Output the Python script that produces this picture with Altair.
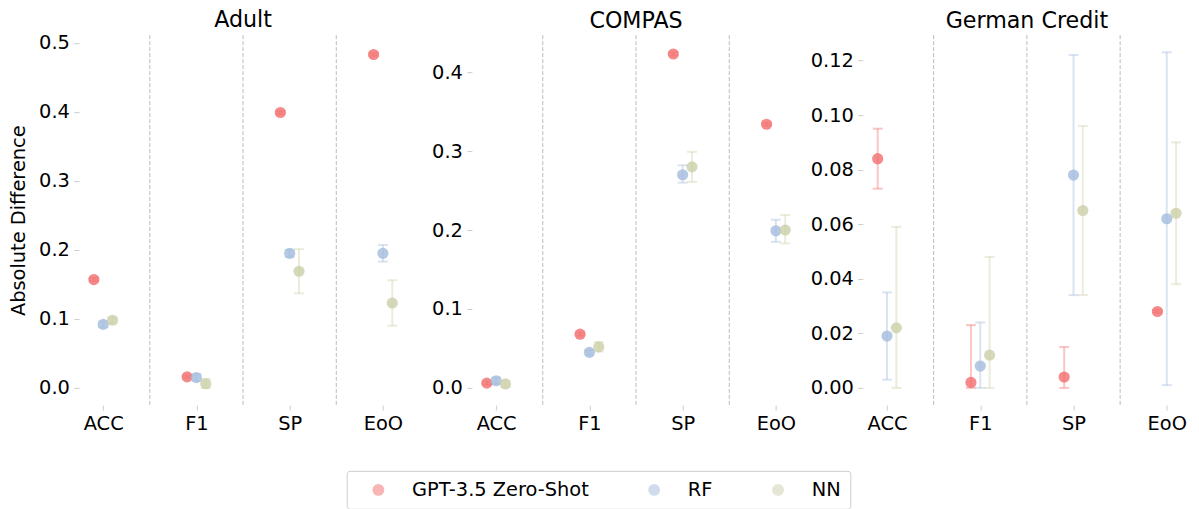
import altair as alt
import pandas as pd

metrics = ["ACC", "F1", "SP", "EoO"]
models = ["GPT-3.5 Zero-Shot", "RF", "NN"]
datasets = ["Adult", "COMPAS", "German Credit"]

# values per dataset -> model -> metric order (ACC, F1, SP, EoO)
adult_val = {
    "GPT-3.5 Zero-Shot": [0.157, 0.016, 0.399, 0.483],
    "RF": [0.092, 0.015, 0.195, 0.195],
    "NN": [0.098, 0.006, 0.169, 0.123],
}
adult_lo = {
    "GPT-3.5 Zero-Shot": [0.155, 0.014, 0.397, 0.481],
    "RF": [0.088, 0.010, 0.190, 0.183],
    "NN": [0.094, 0.000, 0.137, 0.090],
}
adult_hi = {
    "GPT-3.5 Zero-Shot": [0.159, 0.018, 0.401, 0.485],
    "RF": [0.096, 0.020, 0.200, 0.207],
    "NN": [0.102, 0.013, 0.201, 0.156],
}
compas_val = {
    "GPT-3.5 Zero-Shot": [0.006, 0.068, 0.423, 0.334],
    "RF": [0.009, 0.045, 0.270, 0.199],
    "NN": [0.005, 0.052, 0.280, 0.200],
}
compas_lo = {
    "GPT-3.5 Zero-Shot": [0.004, 0.066, 0.421, 0.332],
    "RF": [0.005, 0.042, 0.260, 0.185],
    "NN": [0.001, 0.046, 0.261, 0.183],
}
compas_hi = {
    "GPT-3.5 Zero-Shot": [0.008, 0.070, 0.425, 0.336],
    "RF": [0.013, 0.048, 0.282, 0.213],
    "NN": [0.009, 0.058, 0.299, 0.219],
}
german_val = {
    "GPT-3.5 Zero-Shot": [0.084, 0.002, 0.004, 0.028],
    "RF": [0.019, 0.008, 0.078, 0.062],
    "NN": [0.022, 0.012, 0.065, 0.064],
}
german_lo = {
    "GPT-3.5 Zero-Shot": [0.073, 0.000, 0.000, 0.0275],
    "RF": [0.003, 0.000, 0.034, 0.001],
    "NN": [0.000, 0.000, 0.034, 0.038],
}
german_hi = {
    "GPT-3.5 Zero-Shot": [0.095, 0.023, 0.015, 0.0285],
    "RF": [0.035, 0.024, 0.122, 0.123],
    "NN": [0.059, 0.048, 0.096, 0.090],
}

dodge = {"GPT-3.5 Zero-Shot": -0.1, "RF": 0.0, "NN": 0.1}
colors = ["#f26d6d", "#a3bbdd", "#cccfa8"]

tables = {
    "Adult": (adult_val, adult_lo, adult_hi),
    "COMPAS": (compas_val, compas_lo, compas_hi),
    "German Credit": (german_val, german_lo, german_hi),
}

rows = []
for ds in datasets:
    v, lo, hi = tables[ds]
    for m in models:
        for i, met in enumerate(metrics):
            rows.append({"dataset": ds, "model": m, "metric": met,
                         "value": v[m][i], "lo": lo[m][i], "hi": hi[m][i]})
df = pd.DataFrame(rows)
sep_df = pd.DataFrame({"sep": [0.5, 1.5, 2.5]})

metrics_js = "[" + ",".join(f"'{m}'" for m in metrics) + "]"
dodge_js = "{" + ",".join(f"'{k}': {v}" for k, v in dodge.items()) + "}"

panel_cfg = {
    "Adult": ([-0.025, 0.511], [0.0, 0.1, 0.2, 0.3, 0.4, 0.5], ".1f"),
    "COMPAS": ([-0.0219, 0.4468], [0.0, 0.1, 0.2, 0.3, 0.4], ".1f"),
    "German Credit": ([-0.00633, 0.12926], [0.0, 0.02, 0.04, 0.06, 0.08, 0.10, 0.12], ".2f"),
}

W, H = 328.5, 370.3


def panel(ds, first):
    domain, ticks, fmt = panel_cfg[ds]
    xscale = alt.Scale(domain=[-0.26, 3.26], nice=False, zero=False)
    xaxis = alt.Axis(values=[0, 1, 2, 3], labelExpr=f"{metrics_js}[datum.value]",
                     title=None, grid=False)
    yscale = alt.Scale(domain=domain, nice=False, zero=False)
    ytitle = "Absolute Difference" if first else None
    yaxis = alt.Axis(values=ticks, format=fmt, title=ytitle, grid=False, titlePadding=10)
    if first:
        legend = alt.Legend(orient="none", legendX=268, legendY=436, direction="horizontal",
                            columns=3, title=None, symbolType="circle", symbolSize=107,
                            symbolOpacity=0.5, labelFontSize=19.4, labelOffset=24,
                            columnPadding=42, padding=9, symbolOffset=13,
                            strokeColor="#cccccc", fillColor="white", cornerRadius=3,
                            labelLimit=400)
    else:
        legend = None
    color = alt.Color("model:N", scale=alt.Scale(domain=models, range=colors), legend=legend)

    base = alt.Chart(df).transform_filter(alt.datum.dataset == ds).transform_calculate(
        xpos=f"indexof({metrics_js}, datum.metric) + {dodge_js}[datum.model]")
    X = alt.X("xpos:Q", scale=xscale, axis=xaxis)

    seps = alt.Chart(sep_df).mark_rule(color="#bbbbbb", strokeDash=[4, 2], strokeWidth=1).encode(
        x=alt.X("sep:Q", scale=xscale, axis=xaxis))
    bars = base.mark_rule(strokeWidth=2, opacity=0.4).encode(
        x=X, y=alt.Y("lo:Q", scale=yscale, axis=yaxis), y2="hi:Q", color=color)
    cap_lo = base.mark_tick(orient="horizontal", size=10, thickness=2, opacity=0.4).encode(
        x=X, y=alt.Y("lo:Q", scale=yscale, axis=yaxis), color=color)
    cap_hi = base.mark_tick(orient="horizontal", size=10, thickness=2, opacity=0.4).encode(
        x=X, y=alt.Y("hi:Q", scale=yscale, axis=yaxis), color=color)
    dots = base.mark_circle(size=125, opacity=0.8).encode(
        x=X, y=alt.Y("value:Q", scale=yscale, axis=yaxis), color=color)

    return alt.layer(seps, bars, cap_lo, cap_hi, dots).properties(
        width=W, height=H,
        title=alt.TitleParams(text=ds, fontSize=22.2, fontWeight="normal", offset=2))


left_pair = alt.hconcat(panel("Adult", True), panel("COMPAS", False), spacing=23.3)
chart = alt.hconcat(left_pair, panel("German Credit", False), spacing=9.5).properties(
    padding={"left": 0, "top": 0, "right": 0, "bottom": 0}
).configure(font="DejaVu Sans").configure_view(strokeWidth=0).configure_axis(
    domain=False, tickColor="#cccccc", tickSize=5, labelPadding=4.5, labelFontSize=19.4,
    labelColor="black", titleFontSize=19.4, titleFontWeight="normal", titleColor="black"
).configure_axisX(labelBaseline="top")

chart.save("out.html", embed_options={"renderer": "svg", "actions": False})
